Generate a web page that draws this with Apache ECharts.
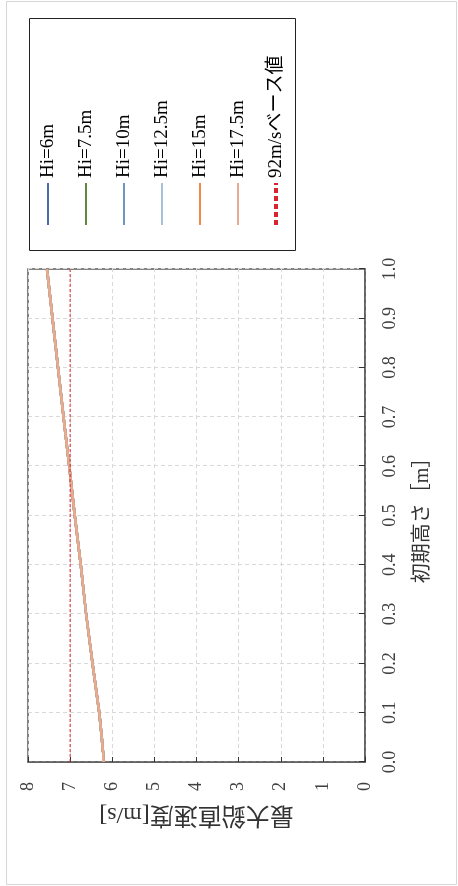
<!DOCTYPE html>
<html>
<head>
<meta charset="utf-8">
<script src="https://cdn.jsdelivr.net/npm/echarts@6/dist/echarts.min.js"></script>
<style>
  html, body { margin: 0; padding: 0; background: #fff; }
  body { width: 458px; height: 886px; position: relative; overflow: hidden; }
  /* chart is laid out landscape and turned a quarter turn, like the source figure */
  #chart {
    position: absolute; left: 0; top: 886px;
    width: 886px; height: 458px;
    transform-origin: 0 0;
    transform: rotate(-90deg);
  }
</style>
</head>
<body>
<div id="chart"></div>
<script>
// initial height [m]
const heights = [0, 0.02, 0.05, 0.1, 0.2, 0.3, 0.4, 0.5, 0.6, 0.7, 0.8, 0.9, 1.0];
// max vertical speed [m/s] - all Hi curves lie on top of each other
const maxSpeed = [6.21, 6.22, 6.25, 6.31, 6.47, 6.62, 6.75, 6.89, 7.02, 7.16, 7.29, 7.42, 7.55];
const hiNames = ["Hi=6m", "Hi=7.5m", "Hi=10m", "Hi=12.5m", "Hi=15m", "Hi=17.5m"];
const hiColors = ["#4a6aa8", "#5e8a3e", "#6f97bf", "#a9c1d6", "#ee8a45", "#e6ab92"];
// 92m/s base value
const baseName = "92m/sベース値";
const baseX = [0, 1];
const baseY = [7.0, 7.0];

const serif = '"Liberation Serif", "Noto Sans CJK JP", serif';

const series = hiNames.map((name, k) => ({
  name: name,
  type: "line",
  symbol: "none",
  color: hiColors[k],
  lineStyle: { width: 2.5, color: hiColors[k] },
  data: heights.map((h, i) => [h, maxSpeed[i]]),
}));
series.push({
  name: baseName,
  type: "line",
  symbol: "none",
  color: "#d7262f",
  lineStyle: { width: 1, type: [3, 2], color: "#d7262f" },
  data: baseX.map((x, i) => [x, baseY[i]]),
});

const legendData = hiNames.map((n) => ({ name: n }));
legendData.push({ name: baseName, lineStyle: { width: 4, type: [5, 3], color: "#d7262f" } });

const chart = echarts.init(document.getElementById("chart"), null, { renderer: "canvas" });
chart.setOption({
  animation: false,
  backgroundColor: "#fff",
  graphic: [
    { type: "rect", shape: { x: 1.5, y: 6.5, width: 883, height: 450 },
      style: { fill: "none", stroke: "#d6d6d6", lineWidth: 1 }, silent: true },
    { type: "rect", shape: { x: 635.5, y: 29.5, width: 232, height: 266 },
      style: { fill: "none", stroke: "#222", lineWidth: 1 }, silent: true },
  ],
  legend: {
    orient: "vertical",
    left: 654,
    top: 33,
    itemWidth: 42,
    itemHeight: 20,
    itemGap: 18,
    itemStyle: { opacity: 0 },
    lineStyle: { width: 2 },
    textStyle: { fontFamily: serif, fontSize: 19, lineHeight: 20, color: "#000" },
    data: legendData,
  },
  grid: {
    left: 124, right: 269, top: 28, bottom: 93,
    show: true, borderColor: "#595959", borderWidth: 1.5, backgroundColor: "#fff",
  },
  xAxis: {
    type: "value",
    min: 0, max: 1, interval: 0.1,
    name: "初期高さ［m］",
    nameLocation: "middle",
    nameGap: 48,
    nameTextStyle: { fontFamily: serif, fontSize: 20, color: "#333" },
    axisLine: { lineStyle: { color: "#595959", width: 1.5 } },
    axisTick: { inside: true, length: 6, lineStyle: { color: "#333" } },
    axisLabel: { fontFamily: serif, fontSize: 18, color: "#404040", margin: 16,
      formatter: (v) => v.toFixed(1) },
    splitLine: { lineStyle: { color: "#d9d9d9", type: [4, 3] } },
  },
  yAxis: {
    type: "value",
    min: 0, max: 8, interval: 1,
    name: "最大鉛直速度[m/s]",
    nameLocation: "middle",
    nameGap: 26,
    nameTextStyle: { fontFamily: serif, fontSize: 24, color: "#333" },
    axisLine: { show: true, lineStyle: { color: "#595959", width: 1.5 } },
    axisTick: { show: true, inside: true, length: 5, lineStyle: { color: "#333" } },
    axisLabel: { fontFamily: serif, fontSize: 18, color: "#404040", margin: 20 },
    splitLine: { lineStyle: { color: "#d9d9d9", type: [4, 3] } },
  },
  series: series,
});
</script>
</body>
</html>
